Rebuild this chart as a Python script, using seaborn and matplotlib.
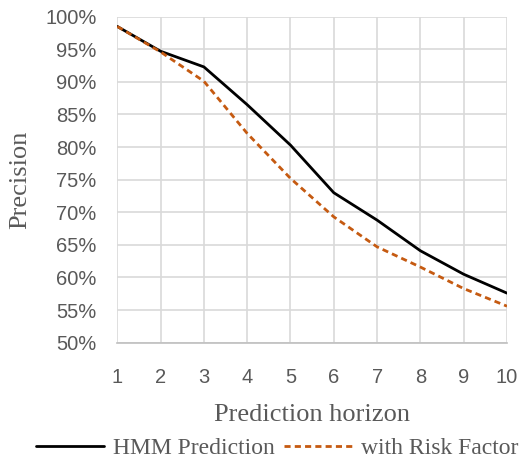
import numpy as np
import pandas as pd
import seaborn as sns
import matplotlib.pyplot as plt
from matplotlib.ticker import FuncFormatter, MultipleLocator

horizon = [1, 2, 3, 4, 5, 6, 7, 8, 9, 10]
hmm = [98.5, 94.7, 92.3, 86.5, 80.3, 73.0, 68.8, 64.1, 60.5, 57.6]
risk = [98.5, 94.6, 90.1, 82.1, 75.2, 69.3, 64.7, 61.6, 58.3, 55.6]
series_names = ["HMM Prediction", "with Risk Factor"]

df = pd.DataFrame({
    "h": horizon * 2,
    "p": hmm + risk,
    "s": [series_names[0]] * len(horizon) + [series_names[1]] * len(horizon),
})

sns.set_style("white")
plt.rcParams["font.family"] = ["Liberation Serif", "DejaVu Serif"]

fig = plt.figure(figsize=(5.21, 4.61), dpi=100)
ax = fig.add_axes([117.3 / 521, 1 - 342.7 / 461, (507 - 117.3) / 521, (342.7 - 16.7) / 461])

sns.lineplot(data=df, x="h", y="p", hue="s", style="s",
             palette={series_names[0]: "black", series_names[1]: "#C55A11"},
             dashes={series_names[0]: "", series_names[1]: (2.2, 1.5)},
             linewidth=2.0, ax=ax, legend=True)

ax.set_xlim(1, 10)
ax.set_ylim(50, 100)
ax.xaxis.set_major_locator(MultipleLocator(1))
ax.yaxis.set_major_locator(MultipleLocator(5))
ax.yaxis.set_major_formatter(FuncFormatter(lambda v, p: f"{int(round(v))}%"))
ax.grid(True, color="#d9d9d9", linewidth=1.2)
ax.set_axisbelow(True)
for name, sp in ax.spines.items():
    sp.set_visible(name == "bottom")
ax.spines["bottom"].set_color("#bfbfbf")
ax.spines["bottom"].set_linewidth(1.2)
ax.tick_params(axis="x", length=0, pad=18, colors="#595959")
ax.tick_params(axis="y", length=0, pad=15, colors="#595959")
for lab in ax.get_xticklabels() + ax.get_yticklabels():
    lab.set_fontfamily(["Liberation Sans", "DejaVu Sans"])
    lab.set_fontsize(14.5)
    lab.set_color("#595959")

ax.set_xlabel("Prediction horizon", fontsize=19, color="#595959")
ax.set_ylabel("Precision", fontsize=19, color="#595959")
ax.xaxis.set_label_coords(0.5, -0.188)
ax.yaxis.set_label_coords(-0.25, 0.5)
ax.yaxis.label.set_va("center")
ax.xaxis.label.set_va("top")

handles, labels = ax.get_legend_handles_labels()
leg = fig.legend(handles, labels, loc="center", bbox_to_anchor=(277 / 521, 1 - 448.5 / 461),
                 ncol=2, frameon=False, fontsize=17, handlelength=2.9,
                 columnspacing=0.4, handletextpad=0.35, borderaxespad=0, borderpad=0)
if ax.get_legend():
    ax.get_legend().remove()
for t in leg.get_texts():
    t.set_color("#595959")

fig.savefig("out.png", dpi=100)
